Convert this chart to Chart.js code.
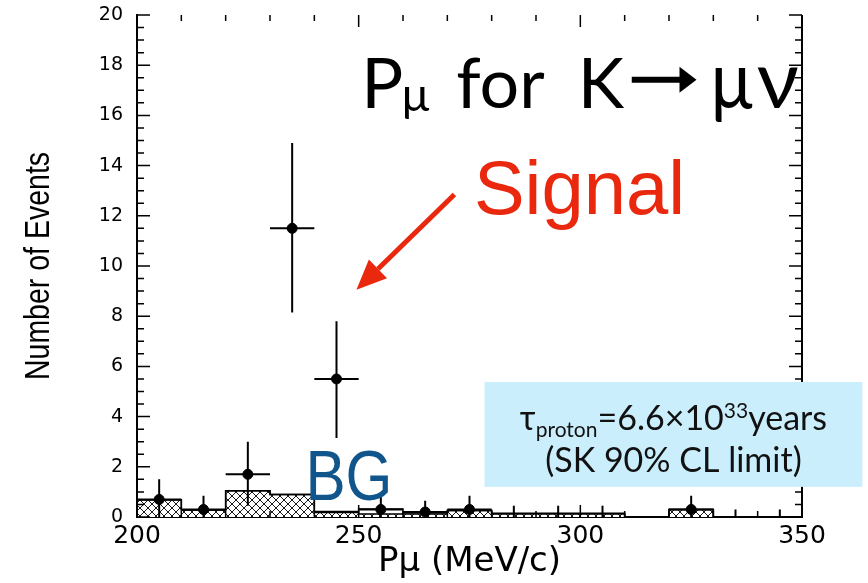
<!DOCTYPE html>
<html>
<head>
<meta charset="utf-8">
<script src="https://cdn.jsdelivr.net/npm/chart.js@4.4.0/dist/chart.umd.min.js"></script>
<style>
  html, body { margin: 0; padding: 0; background: #fff; }
  #wrap { width: 868px; height: 583px; }
</style>
</head>
<body>
<div id="wrap"><canvas id="c" width="868" height="583"></canvas></div>
<script>
// Muon momentum bins (MeV/c), 10 MeV wide
const binCenters = [205, 215, 225, 235, 245, 255, 265, 275, 285, 295, 305, 315, 325, 335, 345];
// Observed events per bin with asymmetric errors
const dataCounts = [0.7, 0.3, 1.7, 11.5, 5.5, 0.3, 0.2, 0.3, 0, 0, 0, 0, 0.3, 0, 0];
const errUp      = [0.8, 0.55, 1.3, 3.4, 2.3, 0.5, 0.45, 0.55, 0.45, 0.45, 0.45, 0, 0.55, 0.3, 0.3];
const errDown    = [0.7, 0.3, 1.25, 3.35, 2.35, 0.3, 0.2, 0.3, 0, 0, 0, 0, 0.3, 0, 0];
// Background expectation (hatched) and total expectation (outline)
const bgHist     = [0.69, 0.28, 1.05, 0.9, 0.18, 0.12, 0.12, 0.26, 0.12, 0.12, 0.12, 0, 0.3, 0, 0];
const totalHist  = [0.69, 0.28, 1.05, 0.9, 0.22, 0.32, 0.17, 0.26, 0.15, 0.15, 0.15, 0, 0.3, 0, 0];
// Axis labels
const xTicks = [200, 250, 300, 350];
const yTicks = [0, 2, 4, 6, 8, 10, 12, 14, 16, 18, 20];

const halfBin = (binCenters[1] - binCenters[0]) / 2;
const xMin = binCenters[0] - halfBin;
const xMax = binCenters[binCenters.length - 1] + halfBin;

// Stepped outline points built from bin edges
function stepPoints(h) {
  const pts = [{ x: xMin, y: 0 }];
  binCenters.forEach((c, i) => pts.push({ x: c - halfBin, y: h[i] }));
  pts.push({ x: xMax, y: h[h.length - 1] });
  return pts;
}

// Cross-hatch fill
const hatch = (() => {
  const s = 8;
  const cv = document.createElement('canvas');
  cv.width = s; cv.height = s;
  const g = cv.getContext('2d');
  g.fillStyle = '#fff';
  g.fillRect(0, 0, s, s);
  g.strokeStyle = '#000';
  g.lineWidth = 0.9;
  g.beginPath();
  g.moveTo(0, 0); g.lineTo(s, s);
  g.moveTo(s, 0); g.lineTo(0, s);
  g.stroke();
  return g.createPattern(cv, 'repeat');
})();

// Error bars under the data markers
const errorBars = {
  id: 'errorBars',
  beforeDatasetDraw(chart, args) {
    if (args.index !== 0) return;
    const { ctx, scales: { x, y } } = chart;
    ctx.save();
    ctx.strokeStyle = '#000';
    ctx.lineWidth = 2;
    binCenters.forEach((c, i) => {
      const v = dataCounts[i];
      const px = x.getPixelForValue(c);
      ctx.beginPath();
      if (errUp[i] > 0 || errDown[i] > 0) {
        ctx.moveTo(px, y.getPixelForValue(v - errDown[i]));
        ctx.lineTo(px, y.getPixelForValue(v + errUp[i]));
      }
      if (v > 0) {
        const py = y.getPixelForValue(v);
        ctx.moveTo(x.getPixelForValue(c - halfBin), py);
        ctx.lineTo(x.getPixelForValue(c + halfBin), py);
      }
      ctx.stroke();
    });
    ctx.restore();
  }
};

// Frame on the right and inward tick marks on all four sides
const frameTicks = {
  id: 'frameTicks',
  afterDatasetsDraw(chart) {
    const { ctx, chartArea: a, scales: { x, y } } = chart;
    ctx.save();
    ctx.strokeStyle = '#000';
    ctx.lineWidth = 2;
    ctx.beginPath();
    ctx.moveTo(a.right, a.top);
    ctx.lineTo(a.right, a.bottom);
    ctx.stroke();
    ctx.lineWidth = 1.5;
    ctx.beginPath();
    for (let v = 0; v <= 20.001; v += 0.5) {
      const py = y.getPixelForValue(v);
      const len = Math.abs(v % 2) < 1e-6 ? 13 : 7;
      ctx.moveTo(a.left, py); ctx.lineTo(a.left + len, py);
      ctx.moveTo(a.right, py); ctx.lineTo(a.right - len, py);
    }
    for (let v = xMin; v <= xMax + 0.001; v += 10) {
      const px = x.getPixelForValue(v);
      const len = Math.abs(v % 50) < 1e-6 ? 12 : 6;
      ctx.moveTo(px, a.bottom); ctx.lineTo(px, a.bottom - len);
      ctx.moveTo(px, a.top); ctx.lineTo(px, a.top + len);
    }
    ctx.stroke();
    ctx.restore();
  }
};

// Draw text squeezed or stretched horizontally to a given width
function fitText(ctx, str, font, left, right, base) {
  ctx.save();
  ctx.font = font;
  const w = ctx.measureText(str).width;
  ctx.translate(left, base);
  ctx.scale((right - left) / w, 1);
  ctx.fillText(str, 0, 0);
  ctx.restore();
}

// Text and arrow annotations placed in data coordinates
const annotations = {
  id: 'annotations',
  afterDraw(chart) {
    const { ctx, chartArea: a, scales: { x, y } } = chart;
    const X = v => x.getPixelForValue(v);
    const Y = v => y.getPixelForValue(v);
    ctx.save();
    ctx.textBaseline = 'alphabetic';
    ctx.textAlign = 'left';

    // Vertical axis title, tall narrow lettering
    ctx.save();
    ctx.translate(49, (a.top + a.bottom) / 2);
    ctx.rotate(-Math.PI / 2);
    ctx.scale(1, 1.2);
    ctx.fillStyle = '#000';
    ctx.textAlign = 'center';
    ctx.font = '28.5px "Liberation Sans", Arial, sans-serif';
    ctx.fillText('Number of Events', 0, 0);
    ctx.restore();

    // Title: P_mu for K -> mu nu
    const big = '70px Lato, "DejaVu Sans", sans-serif';
    const ty = Y(16.3);
    ctx.fillStyle = '#000';
    ctx.font = big;
    ctx.fillText('P', X(250.6), ty);
    ctx.font = '46px Lato, "DejaVu Sans", sans-serif';
    ctx.fillText('μ', X(259.7), ty + 3);
    ctx.font = big;
    ctx.fillText('for', X(272.0), ty);
    ctx.fillText('K', X(299.4), ty);
    // heavy arrow
    const ax0 = X(311.6), ax1 = X(326.2), ay = ty - 28;
    ctx.lineWidth = 6;
    ctx.strokeStyle = '#000';
    ctx.beginPath(); ctx.moveTo(ax0, ay); ctx.lineTo(ax1 - 14, ay); ctx.stroke();
    ctx.beginPath(); ctx.moveTo(ax1 - 17, ay - 13); ctx.lineTo(ax1, ay); ctx.lineTo(ax1 - 17, ay + 13); ctx.closePath(); ctx.fill();
    fitText(ctx, 'μ', '80px Lato, "DejaVu Sans", sans-serif', X(329.4), X(338.8), ty);
    fitText(ctx, 'ν', '80px Lato, "DejaVu Sans", sans-serif', X(339.8), X(349.3), ty);

    // Signal label and pointer arrow
    const red = 'rgb(233,40,14)';
    ctx.fillStyle = red;
    ctx.font = '76px "Liberation Sans", Arial, sans-serif';
    ctx.fillText('Signal', X(276.0), Y(12.07));
    const x0 = X(271.6), y0 = Y(12.85), x1 = X(249.5), y1 = Y(9.05);
    const ang = Math.atan2(y1 - y0, x1 - x0);
    const hl = 30, hw = 13;
    const bx = x1 - hl * Math.cos(ang), by = y1 - hl * Math.sin(ang);
    ctx.strokeStyle = red;
    ctx.lineWidth = 5;
    ctx.beginPath(); ctx.moveTo(x0, y0); ctx.lineTo(bx, by); ctx.stroke();
    ctx.beginPath();
    ctx.moveTo(x1, y1);
    ctx.lineTo(bx + hw * Math.sin(ang), by - hw * Math.cos(ang));
    ctx.lineTo(bx - hw * Math.sin(ang), by + hw * Math.cos(ang));
    ctx.closePath(); ctx.fill();

    // BG label
    ctx.save();
    ctx.fillStyle = 'rgb(16,86,140)';
    ctx.translate(X(238.0), Y(0.68));
    ctx.scale(0.86, 1);
    ctx.font = '70px "Liberation Sans", Arial, sans-serif';
    ctx.fillText('BG', 0, 0);
    ctx.restore();

    // Lifetime limit box
    const bx0 = X(278.4), bx1 = X(363.6), by0 = Y(5.38), by1 = Y(1.2);
    ctx.fillStyle = 'rgb(202,238,251)';
    ctx.fillRect(bx0, by0, bx1 - bx0, by1 - by0);
    ctx.fillStyle = '#111';
    const f1 = '34px Lato, "DejaVu Sans", sans-serif';
    const f2 = '21px Lato, "DejaVu Sans", sans-serif';
    const parts = [
      ['τ', f1, 0], ['proton', f2, 7], ['=6.6×10', f1, 0], ['33', f2, -12], ['years', f1, 0]
    ];
    let w = 0;
    parts.forEach(p => { ctx.font = p[1]; w += ctx.measureText(p[0]).width; });
    const cx = (bx0 + bx1) / 2;
    let px = cx - w / 2;
    const l1 = Y(3.47);
    parts.forEach(p => { ctx.font = p[1]; ctx.fillText(p[0], px, l1 + p[2]); px += ctx.measureText(p[0]).width; });
    ctx.font = f1;
    ctx.textAlign = 'center';
    ctx.fillText('(SK 90% CL limit)', cx, Y(1.79));
    ctx.restore();
  }
};

new Chart(document.getElementById('c'), {
  type: 'bar',
  data: {
    datasets: [
      {
        type: 'scatter',
        label: 'Data',
        data: binCenters.map((c, i) => ({ x: c, y: dataCounts[i] })),
        backgroundColor: '#000',
        borderColor: '#000',
        pointRadius: ctx => (dataCounts[ctx.dataIndex] > 0 ? 5 : 0),
        pointHoverRadius: 0,
        order: 0
      },
      {
        type: 'line',
        label: 'Total',
        data: stepPoints(totalHist),
        stepped: 'before',
        borderColor: '#000',
        borderWidth: 1.5,
        pointRadius: 0,
        fill: false,
        order: 1
      },
      {
        type: 'line',
        label: 'BG outline',
        data: stepPoints(bgHist),
        stepped: 'before',
        borderColor: '#000',
        borderWidth: 1.5,
        pointRadius: 0,
        fill: false,
        order: 2
      },
      {
        type: 'bar',
        label: 'BG',
        data: binCenters.map((c, i) => ({ x: c, y: bgHist[i] })),
        backgroundColor: hatch,
        borderWidth: 0,
        barPercentage: 1,
        categoryPercentage: 1,
        order: 3
      }
    ]
  },
  options: {
    responsive: false,
    devicePixelRatio: 1,
    animation: false,
    events: [],
    layout: { padding: { top: 15, right: 66, left: 0, bottom: 0 } },
    plugins: { legend: { display: false }, tooltip: { enabled: false } },
    scales: {
      x: {
        type: 'linear',
        offset: false,
        min: xMin,
        max: xMax,
        afterBuildTicks: s => { s.ticks = xTicks.map(v => ({ value: v })); },
        afterFit: s => { s.height = 66; s.paddingLeft = 0; s.paddingRight = 0; },
        grid: { display: false, drawTicks: false },
        border: { display: true, color: '#000', width: 2 },
        ticks: {
          color: '#000',
          font: { family: '"DejaVu Sans", sans-serif', size: 25 },
          padding: 4,
          maxRotation: 0,
          autoSkip: false
        },
        title: {
          display: true,
          text: 'Pμ (MeV/c)',
          color: '#000',
          font: { family: '"DejaVu Sans", sans-serif', size: 34 },
          padding: { top: 0, bottom: 0 }
        }
      },
      y: {
        type: 'linear',
        min: 0,
        max: 20,
        afterBuildTicks: s => { s.ticks = yTicks.map(v => ({ value: v })); },
        afterFit: s => { s.width = 137; s.paddingTop = 0; s.paddingBottom = 0; },
        grid: { display: false, drawTicks: false },
        border: { display: true, color: '#000', width: 2 },
        ticks: {
          color: '#000',
          font: { family: '"DejaVu Sans", sans-serif', size: 19 },
          padding: 14,
          autoSkip: false
        }
      }
    }
  },
  plugins: [errorBars, frameTicks, annotations]
});
</script>
</body>
</html>
